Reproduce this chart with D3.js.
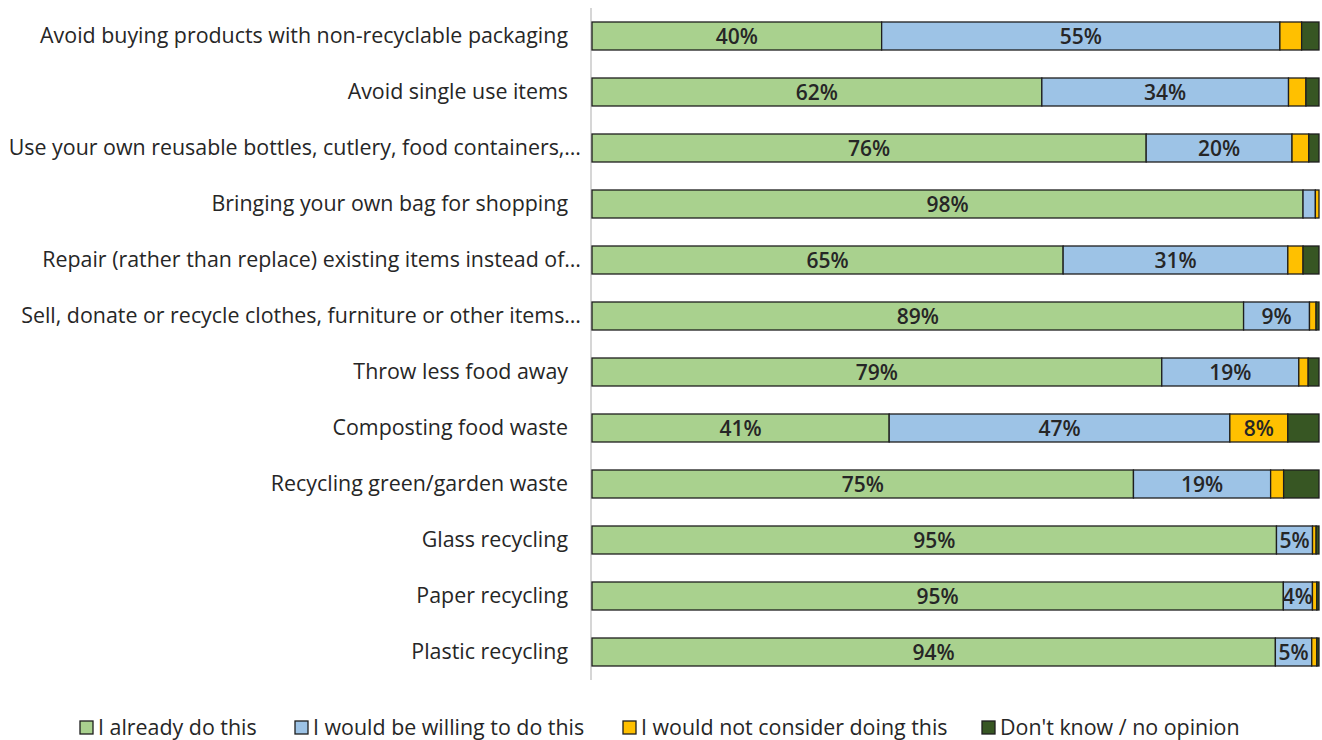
<!DOCTYPE html>
<html>
<head>
<meta charset="utf-8">
<script src="https://cdn.jsdelivr.net/npm/d3@7/dist/d3.min.js"></script>
<style>
  html, body { margin: 0; padding: 0; background: #fff; }
  svg { display: block; }
</style>
</head>
<body>
<svg id="chart" width="1322" height="740"></svg>
<script>
// Survey actions, top to bottom
const categories = [
  "Avoid buying products with non-recyclable packaging",
  "Avoid single use items",
  "Use your own reusable bottles, cutlery, food containers,…",
  "Bringing your own bag for shopping",
  "Repair (rather than replace) existing items instead of…",
  "Sell, donate or recycle clothes, furniture or other items…",
  "Throw less food away",
  "Composting food waste",
  "Recycling green/garden waste",
  "Glass recycling",
  "Paper recycling",
  "Plastic recycling"
];

const seriesNames = [
  "I already do this",
  "I would be willing to do this",
  "I would not consider doing this",
  "Don't know / no opinion"
];

// Percent of respondents per answer
const alreadyDo   = [40, 62, 76, 98, 65, 89, 79, 41, 75, 95, 95, 94];
const willing     = [55, 34, 20, 1.7, 31, 9, 19, 47, 19, 5, 4, 5];
const notConsider = [3, 2.4, 2.3, 0.5, 2.1, 0.9, 1.3, 8, 1.8, 0.5, 0.6, 0.7];
const dontKnow    = [2.4, 1.8, 1.4, 0, 2.2, 0.4, 1.5, 4.3, 4.9, 0.4, 0.3, 0.3];

const colors = ["#a9d18e", "#9dc3e6", "#ffc000", "#375623"];

const rows = categories.map((c, i) => ({
  category: c,
  s0: alreadyDo[i], s1: willing[i], s2: notConsider[i], s3: dontKnow[i]
}));
const keys = ["s0", "s1", "s2", "s3"];
const labelledKeys = ["s0", "s1", "s2"];

const svg = d3.select("#chart");
const fontFamily = "'Open Sans', Lato, sans-serif";

const x = d3.scaleLinear().domain([0, 1]).range([592, 1319]);
const y = d3.scaleBand().domain(categories).range([8, 680]).paddingInner(0.5).paddingOuter(0.25);

const stacked = d3.stack().keys(keys).offset(d3.stackOffsetExpand)(rows);

// Category axis line
svg.append("line")
  .attr("x1", 591).attr("x2", 591)
  .attr("y1", 8).attr("y2", 680)
  .attr("stroke", "#c8c8c8").attr("stroke-width", 1.5);

// Category labels (shortened labels sit a little closer to the axis)
const yAxis = d3.axisLeft(y).tickSize(0).tickPadding(23);
const gy = svg.append("g").attr("transform", "translate(591,0)").call(yAxis);
gy.select(".domain").remove();
gy.selectAll("text")
  .attr("font-family", fontFamily)
  .attr("font-size", 21.4)
  .attr("fill", "#262626")
  .attr("x", d => d.endsWith("…") ? -10 : -23);

// Bars
const layers = svg.append("g").selectAll("g")
  .data(stacked).join("g")
  .attr("fill", (d, i) => colors[i]);

layers.selectAll("rect")
  .data(d => d.map(v => ({ v, key: d.key })))
  .join("rect")
  .attr("x", d => x(d.v[0]))
  .attr("y", d => y(d.v.data.category))
  .attr("width", d => Math.max(0, x(d.v[1]) - x(d.v[0])))
  .attr("height", y.bandwidth())
  .attr("stroke", "#1e1e1e")
  .attr("stroke-width", 1.3);

// Value labels for segments wide enough to hold them
layers.selectAll("text")
  .data(d => labelledKeys.includes(d.key)
    ? d.map(v => ({ v, key: d.key })).filter(d => d.v.data[d.key] >= 4)
    : [])
  .join("text")
  .attr("x", d => (x(d.v[0]) + x(d.v[1])) / 2)
  .attr("y", d => y(d.v.data.category) + y.bandwidth() / 2)
  .attr("dy", "0.38em")
  .attr("text-anchor", "middle")
  .attr("font-family", fontFamily)
  .attr("font-size", 21)
  .attr("font-weight", 600)
  .attr("fill", "#262626")
  .text(d => Math.round(d.v.data[d.key]) + "%");

// Legend
const legendX = [80, 295, 623, 982];
const legend = svg.append("g");
seriesNames.forEach((name, i) => {
  const g = legend.append("g").attr("transform", `translate(${legendX[i]},0)`);
  g.append("rect")
    .attr("x", 0).attr("y", 721).attr("width", 13).attr("height", 13)
    .attr("fill", colors[i]).attr("stroke", "#1e1e1e").attr("stroke-width", 1.3);
  g.append("text")
    .attr("x", 18).attr("y", 734.5)
    .attr("font-family", fontFamily)
    .attr("font-size", 21.4)
    .attr("fill", "#262626")
    .text(name);
});
</script>
</body>
</html>
